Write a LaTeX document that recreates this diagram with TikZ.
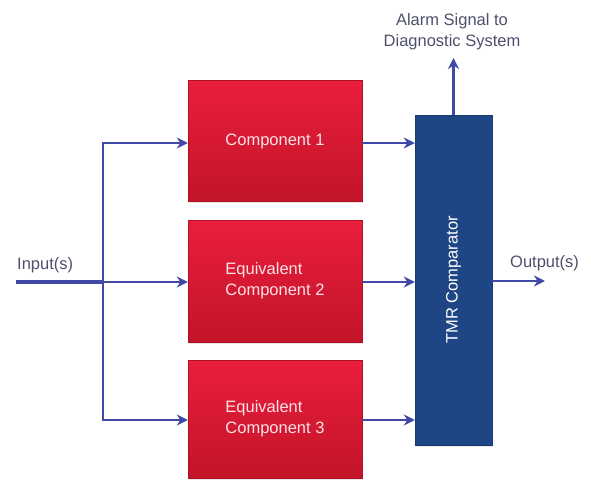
\documentclass[tikz,border=0pt]{standalone}
\usepackage{fontspec}
\setmainfont{Liberation Sans}
\usetikzlibrary{arrows.meta,shadows}

\definecolor{flowblue}{RGB}{64,74,166}
\definecolor{redtop}{RGB}{234,30,62}
\definecolor{redbot}{RGB}{194,20,40}
\definecolor{tmrblue}{RGB}{30,70,132}
\definecolor{labelgray}{RGB}{78,80,108}
\definecolor{boxtext}{RGB}{252,226,230}

\tikzset{
  redbox/.style={rectangle, minimum width=174pt, inner sep=0pt,
    top color=redtop, bottom color=redbot, draw=redbot!90!black, line width=0.4pt,
    drop shadow={shadow xshift=1pt, shadow yshift=-1.5pt, opacity=0.18},
    text=boxtext, align=left, font=\fontsize{16.5}{21}\selectfont},
  tmrbox/.style={rectangle, minimum width=77pt, minimum height=330pt, inner sep=0pt,
    fill=tmrblue, draw=tmrblue!85!black, line width=0.4pt,
    drop shadow={shadow xshift=1pt, shadow yshift=-1.5pt, opacity=0.18}},
  flow/.style={draw=flowblue, line width=2.6pt, line join=miter,
    -{Stealth[length=11pt,width=11pt,inset=3.5pt]}},
  lbl/.style={text=labelgray, font=\fontsize{16.5}{21}\selectfont, align=center, inner sep=0pt}
}

\begin{document}
\begin{tikzpicture}[x=1pt,y=-1pt]
  \useasboundingbox (0,0) rectangle (591,481);

  % redundant components
  \node[redbox, minimum height=121pt] (c1) at (275,141) {Component 1};
  \node[redbox, minimum height=122pt] (c2) at (275,281) {Equivalent\\Component 2};
  \node[redbox, minimum height=118pt] (c3) at (275,419) {Equivalent\\Component 3};

  % voting comparator
  \node[tmrbox] (tmr) at (453.5,280) {};
  \node[rotate=90, text=white, font=\fontsize{16.5}{20}\selectfont] (tmrlbl) at (tmr.center) {TMR Comparator};

  % labels
  \node[lbl] (alarm) at (452,32) {Alarm Signal to\\Diagnostic System};
  \node[lbl, anchor=west] (inlbl) at (17,265) {Input(s)};
  \node[lbl, anchor=west] (outlbl) at (510,263) {Output(s)};

  % fan-out of the input
  \coordinate (src) at (16,282);
  \coordinate (split) at (103,282);
  \coordinate (topbr) at (103,143);
  \coordinate (botbr) at (103,420);
  \draw[draw=flowblue, line width=4.2pt] (src) -- (split);
  \draw[flow] (split) -- (c2.west |- split);
  \draw[flow] (split) |- (c1.west |- topbr);
  \draw[flow] (split) |- (c3.west |- botbr);

  % component outputs into the comparator
  \draw[flow] (c1.east |- topbr) -- (tmr.west |- topbr);
  \draw[flow] (c2.east |- split) -- (tmr.west |- split);
  \draw[flow] (c3.east |- botbr) -- (tmr.west |- botbr);

  % comparator outputs
  \coordinate (outend) at (545,281);
  \draw[flow] (tmr.east |- outend) -- (outend);
  \draw[flow] (tmr.north) -- (tmr.north |- 0,58);
\end{tikzpicture}
\end{document}
